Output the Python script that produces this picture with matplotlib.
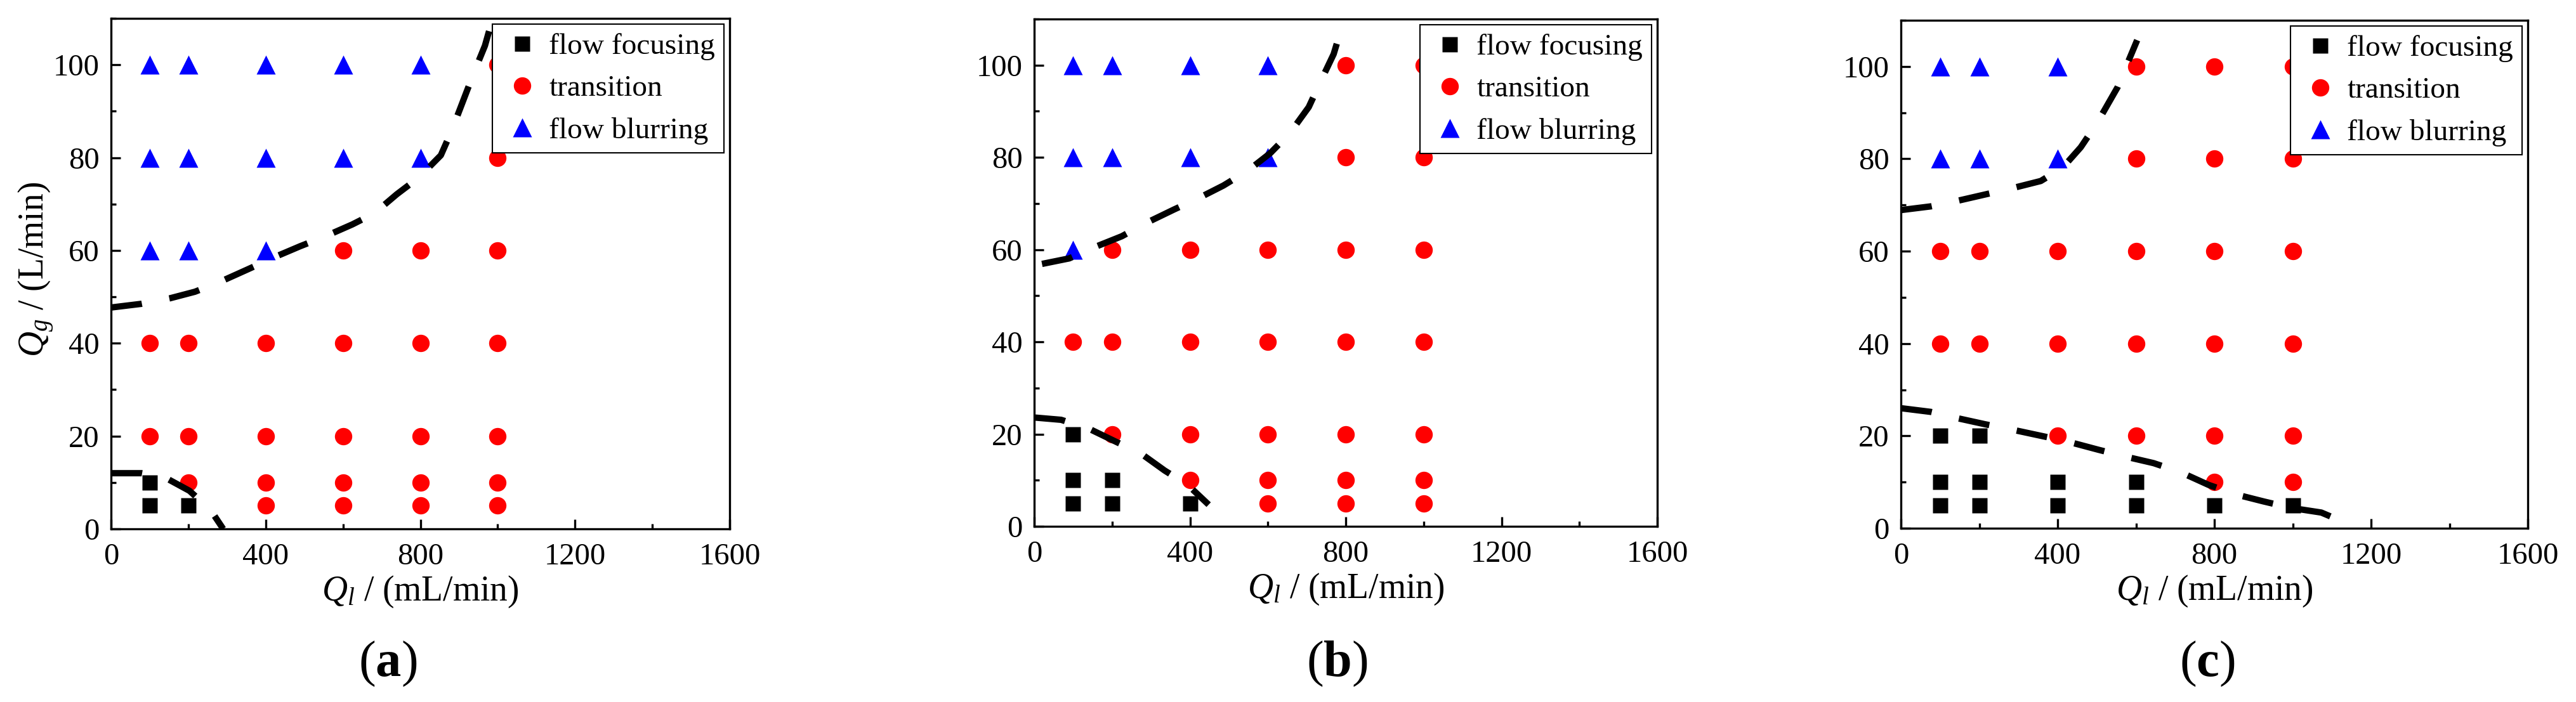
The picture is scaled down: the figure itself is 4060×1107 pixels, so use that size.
import matplotlib
matplotlib.use("Agg")
import matplotlib.pyplot as plt
from matplotlib.ticker import MultipleLocator

plt.rcParams['font.family'] = ['Liberation Serif', 'DejaVu Serif']
plt.rcParams['mathtext.fontset'] = 'custom'
plt.rcParams['mathtext.rm'] = 'Liberation Serif'
plt.rcParams['mathtext.it'] = 'Liberation Serif:italic'
plt.rcParams['mathtext.bf'] = 'Liberation Serif:bold'

# ---------------- data ----------------
legend_labels = ["flow focusing", "transition", "flow blurring"]
panel_labels = ["a", "b", "c"]

# panel (a)
a_focus_x = [100, 100, 200]
a_focus_y = [10, 5, 5]
a_trans_x = [1000, 1000, 600, 800, 1000,
             100, 200, 400, 600, 800, 1000,
             100, 200, 400, 600, 800, 1000,
             200, 400, 600, 800, 1000,
             400, 600, 800, 1000]
a_trans_y = [100, 80, 60, 60, 60,
             40, 40, 40, 40, 40, 40,
             20, 20, 20, 20, 20, 20,
             10, 10, 10, 10, 10,
             5, 5, 5, 5]
a_blur_x = [100, 200, 400, 600, 800, 100, 200, 400, 600, 800, 100, 200, 400]
a_blur_y = [100, 100, 100, 100, 100, 80, 80, 80, 80, 80, 60, 60, 60]
a_upper_x = [0, 79, 153, 217, 281, 353, 424, 489, 553, 624, 681, 739, 796, 853, 881, 910, 939, 967, 986]
a_upper_y = [47.7, 48.5, 49.7, 51.1, 53.2, 55.9, 58.6, 60.9, 63.0, 65.6, 68.0, 72.1, 75.7, 80.5, 85.8, 92.1, 98.4, 104.1, 109.7]
a_lower_x = [0, 79, 139, 203, 258, 290]
a_lower_y = [12.0, 12.0, 11.1, 8.2, 4.0, 0.0]

# panel (b)
b_focus_x = [100, 100, 200, 100, 200, 400]
b_focus_y = [20, 10, 10, 5, 5, 5]
b_trans_x = [800, 1000, 800, 1000,
             200, 400, 600, 800, 1000,
             100, 200, 400, 600, 800, 1000,
             200, 400, 600, 800, 1000,
             400, 600, 800, 1000,
             600, 800, 1000]
b_trans_y = [100, 100, 80, 80,
             60, 60, 60, 60, 60,
             40, 40, 40, 40, 40, 40,
             20, 20, 20, 20, 20,
             10, 10, 10, 10,
             5, 5, 5]
b_blur_x = [100, 200, 400, 600, 100, 200, 400, 600, 100]
b_blur_y = [100, 100, 100, 100, 80, 80, 80, 80, 60]
b_upper_x = [20, 90, 154, 225, 288, 359, 423, 486, 550, 606, 656, 705, 734, 769, 790, 804]
b_upper_y = [56.9, 58.1, 60.5, 62.9, 65.8, 68.7, 71.2, 73.9, 77.2, 80.9, 85.2, 90.9, 96.2, 102.4, 108.3, 110.0]
b_lower_x = [0, 69, 140, 211, 274, 335, 394, 448]
b_lower_y = [23.6, 23.1, 21.2, 18.3, 15.8, 12.1, 9.0, 4.7]

# panel (c)
c_focus_x = [100, 200, 100, 200, 400, 600, 100, 200, 400, 600, 800, 1000]
c_focus_y = [20, 20, 10, 10, 10, 10, 5, 5, 5, 5, 5, 5]
c_trans_x = [600, 800, 1000, 600, 800, 1000,
             100, 200, 400, 600, 800, 1000,
             100, 200, 400, 600, 800, 1000,
             400, 600, 800, 1000,
             800, 1000]
c_trans_y = [100, 100, 100, 80, 80, 80,
             60, 60, 60, 60, 60, 60,
             40, 40, 40, 40, 40, 40,
             20, 20, 20, 20,
             10, 10]
c_blur_x = [100, 200, 400, 100, 200, 400]
c_blur_y = [100, 100, 100, 80, 80, 80]
c_upper_x = [0, 76, 139, 216, 287, 357, 413, 459, 501, 553, 572, 603]
c_upper_y = [68.9, 69.7, 70.8, 72.3, 73.7, 75.2, 78.1, 82.5, 87.8, 95.5, 99.4, 105.7]
c_lower_x = [0, 76, 146, 216, 287, 364, 420, 504, 574, 645, 715, 785, 856, 926, 996, 1073, 1140]
c_lower_y = [26.0, 25.2, 23.8, 22.5, 21.3, 19.9, 18.9, 17.0, 15.5, 14.1, 12.1, 9.4, 7.3, 5.8, 4.4, 3.4, 1.0]

panels = [
    (a_focus_x, a_focus_y, a_trans_x, a_trans_y, a_blur_x, a_blur_y,
     a_upper_x, a_upper_y, a_lower_x, a_lower_y),
    (b_focus_x, b_focus_y, b_trans_x, b_trans_y, b_blur_x, b_blur_y,
     b_upper_x, b_upper_y, b_lower_x, b_lower_y),
    (c_focus_x, c_focus_y, c_trans_x, c_trans_y, c_blur_x, c_blur_y,
     c_upper_x, c_upper_y, c_lower_x, c_lower_y),
]

# ---------------- layout (pixels) ----------------
W, H = 4060, 1107
fig = plt.figure(figsize=(W / 100, H / 100), dpi=100)
ax_box = [(175, 1150, 29, 834), (1630, 2612, 30, 830), (2996, 3984, 32, 833)]
label_x_px = [611, 2107, 3479]
label_y_px = 1047

TICK_FS = 35
LAB_FS = 40

for i, (pd_, (l, r, t, b)) in enumerate(zip(panels, ax_box)):
    fx, fy, tx, ty, bx, by, ux, uy, lx, ly = pd_
    ax = fig.add_axes([l / W, 1 - b / H, (r - l) / W, (b - t) / H])
    dash = (4.9, 4.4)
    ax.plot(ux, uy, color='black', lw=7.2, ls=(0, dash), dash_capstyle='butt', zorder=3)
    ax.plot(lx, ly, color='black', lw=7.2, ls=(0, dash), dash_capstyle='butt', zorder=3)
    ax.plot(fx, fy, ls='none', marker='s', ms=17.3, color='black', mec='none',
            label=legend_labels[0], zorder=2)
    ax.plot(tx, ty, ls='none', marker='o', ms=19.7, color='#ff0000', mec='none',
            label=legend_labels[1], zorder=2)
    ax.plot(bx, by, ls='none', marker='^', ms=22.3, color='#0000ff', mec='none',
            label=legend_labels[2], zorder=2)
    ax.set_xlim(0, 1600)
    ax.set_ylim(0, 110)
    ax.xaxis.set_major_locator(MultipleLocator(400))
    ax.xaxis.set_minor_locator(MultipleLocator(200))
    ax.yaxis.set_major_locator(MultipleLocator(20))
    ax.yaxis.set_minor_locator(MultipleLocator(10))
    ax.tick_params(which='both', direction='in', top=False, right=False, width=2.4,
                   labelsize=TICK_FS)
    ax.tick_params(which='major', length=11)
    ax.tick_params(which='minor', length=5.6)
    ax.tick_params(axis='x', which='both', pad=16)
    ax.tick_params(axis='y', which='both', pad=13)
    for s in ax.spines.values():
        s.set_linewidth(2.4)
    ax.set_xlabel(r'$Q_l$ / (mL/min)', fontsize=LAB_FS, labelpad=4)
    if i == 0:
        ax.set_ylabel(r'$Q_g$ / (L/min)', fontsize=LAB_FS, va='center')
        ax.yaxis.set_label_coords((57 - l) / (r - l), (b - 425) / (b - t))
    leg = ax.legend(loc='upper right', fontsize=34, frameon=True, fancybox=False,
                    edgecolor='black', framealpha=1, borderaxespad=0.2,
                    handlelength=1.41, handletextpad=0.18, labelspacing=0.49,
                    borderpad=0.29, numpoints=1)
    leg.get_frame().set_linewidth(1.5)
    fig.text(label_x_px[i] / W, 1 - label_y_px / H,
             r'($\mathbf{%s}$)' % panel_labels[i], fontsize=58,
             ha='center', va='center')

fig.savefig('out.png', dpi=100)
